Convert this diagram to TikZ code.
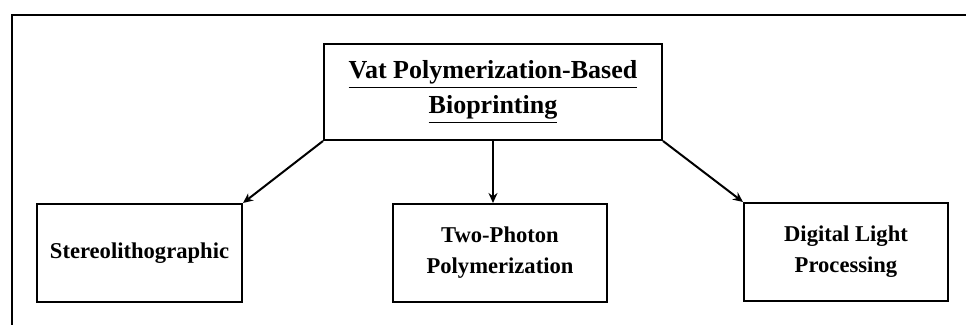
\documentclass[tikz,border=0pt]{standalone}
\usepackage{fontspec}
\setmainfont{Liberation Serif}
\usetikzlibrary{positioning,arrows.meta}

\tikzset{
  techbox/.style={draw, line width=1pt, align=center, minimum height=49pt,
    font=\bfseries\fontsize{11.3}{15.5}\selectfont},
  headbox/.style={techbox, minimum height=48pt,
    font=\bfseries\fontsize{13}{17.5}\selectfont},
  branch/.style={line width=1pt, -{Stealth[length=5pt,width=4.5pt]}}
}

\begin{document}
\begin{tikzpicture}[x=0.5pt,y=-0.5pt]
	
	\clip (0,0) rectangle (966,325);
	\draw[line width=0.8pt] (12,15) rectangle (990,350);
	
	\node[headbox, minimum width=169pt] (vat) at (493,92)
	{\underline{Vat Polymerization-Based}\\\underline{Bioprinting}};
	
	\node[techbox, minimum width=102.5pt] (sla) at (139.5,253) {Stereolithographic};
	\node[techbox, minimum width=107pt] (tpp) at (500,253) {Two-Photon\\Polymerization};
	\node[techbox, minimum width=102pt] (dlp) at (846,252) {Digital Light\\Processing};
	
	\draw[branch] (vat.south west) -- (sla.north east);
	\draw[branch] (vat.south) -- (vat.south |- tpp.north);
	\draw[branch] (vat.south east) -- (dlp.north west);
	
\end{tikzpicture}
\end{document}
